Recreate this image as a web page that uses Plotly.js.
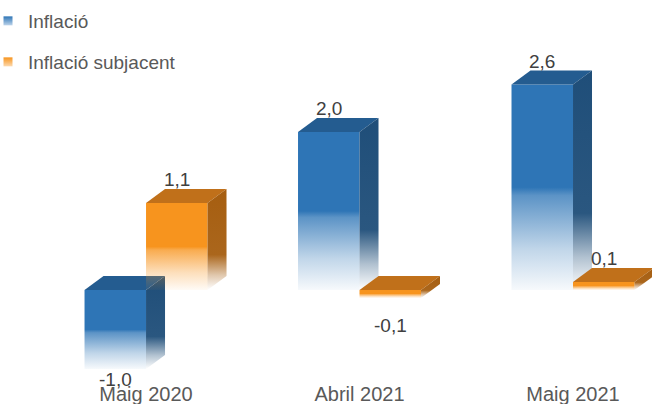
<!DOCTYPE html>
<html>
<head>
<meta charset="utf-8">
<script src="https://cdn.plot.ly/plotly-3.0.1.min.js"></script>
<style>html,body{margin:0;padding:0;background:#fff;}#chart{width:652px;height:404px;}</style>
</head>
<body>
<div id="chart"></div>
<script>
// ---- data ----
const categories = ['Maig 2020', 'Abril 2021', 'Maig 2021'];
const inflacio = [-1.0, 2.0, 2.6];
const subjacent = [1.1, -0.1, 0.1];
const seriesNames = ['Inflació', 'Inflació subjacent'];

// ---- style ----
const W = 652, H = 404;
const margin = {l: 0, r: 0, t: 0, b: 24, autoexpand: false};
const xRange = [-0.684, 2.370];
const yRange = [-1.139, 3.671];
const pxX = (W - margin.l - margin.r) / (xRange[1] - xRange[0]);
const pxY = (H - margin.t - margin.b) / (yRange[1] - yRange[0]);
const barW = 61.5 / pxX;
const depthX = 19 / pxX;
const depthY = 14 / pxY;
const FONT = 'Liberation Sans, Arial, sans-serif';

const styles = [
  {front: [46, 117, 182], top: '#245C90', side: [31, 78, 121], offset: -1, legend: 'legend', lg: '#bcd3ea'},
  {front: [247, 148, 30], top: '#C0701A', side: [166, 94, 16], offset: 0, legend: 'legend2', lg: '#fcd9ae'}
];
// extra shift (px) for labels under negative bars, per series/category
const negLabelShift = [[2, 0, 0], [0, -15, 0]];

function rgba(c, a) { return 'rgba(' + c[0] + ',' + c[1] + ',' + c[2] + ',' + a + ')'; }

const traces = [];
const annotations = [];
const fmt = v => v.toFixed(1).replace('.', ',');

[inflacio, subjacent].forEach((vals, s) => {
  const st = styles[s];
  vals.forEach((v, i) => {
    const x0 = i + (st.offset === -1 ? -barW : 0);
    const x1 = x0 + barW;
    const hi = Math.max(v, 0), lo = Math.min(v, 0);
    // front face
    traces.push({
      type: 'scatter', mode: 'lines', fill: 'toself', showlegend: false, hoverinfo: 'skip',
      x: [x0, x1, x1, x0, x0], y: [lo, lo, hi, hi, lo],
      line: {width: 0, color: 'rgba(0,0,0,0)'},
      fillgradient: {type: 'vertical', start: lo, stop: hi, colorscale: [
        [0, rgba(st.front, 0.04)], [0.2, rgba(st.front, 0.3)], [0.46, rgba(st.front, 0.78)],
        [0.5, rgba(st.front, 1)], [1, rgba(st.front, 1)]]}
    });
    // top face
    traces.push({
      type: 'scatter', mode: 'lines', fill: 'toself', showlegend: false, hoverinfo: 'skip',
      x: [x0, x1, x1 + depthX, x0 + depthX, x0], y: [hi, hi, hi + depthY, hi + depthY, hi],
      line: {width: 0, color: 'rgba(0,0,0,0)'}, fillcolor: st.top
    });
    // side face
    traces.push({
      type: 'scatter', mode: 'lines', fill: 'toself', showlegend: false, hoverinfo: 'skip',
      x: [x1, x1, x1 + depthX, x1 + depthX, x1], y: [lo, hi, hi + depthY, lo + depthY, lo],
      line: {width: 0, color: 'rgba(0,0,0,0)'},
      fillgradient: {type: 'vertical', start: lo, stop: hi + depthY, colorscale: [
        [0, rgba(st.side, 0)], [0.15, rgba(st.side, 0.35)], [0.35, rgba(st.side, 0.95)],
        [1, rgba(st.side, 1)]]}
    });
    // value label
    const cx = (x0 + x1) / 2;
    if (v >= 0) {
      annotations.push({x: cx, y: hi + depthY, text: fmt(v), showarrow: false, xanchor: 'center',
        yanchor: 'bottom', yshift: -3, font: {family: FONT, size: 19, color: '#404040'}});
    } else {
      annotations.push({x: cx, y: lo, text: fmt(v), showarrow: false, xanchor: 'center',
        yanchor: 'top', yshift: negLabelShift[s][i], font: {family: FONT, size: 19, color: '#404040'}});
    }
  });
  // legend entry
  traces.push({
    type: 'scatter', mode: 'markers', x: [null], y: [null], name: seriesNames[s],
    legend: st.legend, hoverinfo: 'skip',
    marker: {symbol: 'square', size: 9, color: rgba(st.front, 1), gradient: {type: 'vertical', color: st.lg}}
  });
});

const legendBase = {xref: 'paper', yref: 'container', xanchor: 'left', yanchor: 'middle',
  bgcolor: 'rgba(0,0,0,0)', font: {family: FONT, size: 19, color: '#595959'}, itemclick: false};

const layout = {
  width: W, height: H, margin: margin,
  paper_bgcolor: '#ffffff', plot_bgcolor: '#ffffff',
  hovermode: false, dragmode: false,
  xaxis: {range: xRange, tickvals: [0, 1, 2], ticktext: categories, showgrid: false, zeroline: false,
    showline: false, ticks: '', automargin: false, fixedrange: true,
    tickfont: {family: FONT, size: 20, color: '#595959'}},
  yaxis: {range: yRange, visible: false, showgrid: false, zeroline: false, fixedrange: true},
  showlegend: true,
  legend: Object.assign({}, legendBase, {x: -12 / W, y: 1 - 21 / H}),
  legend2: Object.assign({}, legendBase, {x: -12 / W, y: 1 - 62 / H}),
  annotations: annotations
};

Plotly.newPlot('chart', traces, layout, {displayModeBar: false, staticPlot: true});
</script>
</body>
</html>
